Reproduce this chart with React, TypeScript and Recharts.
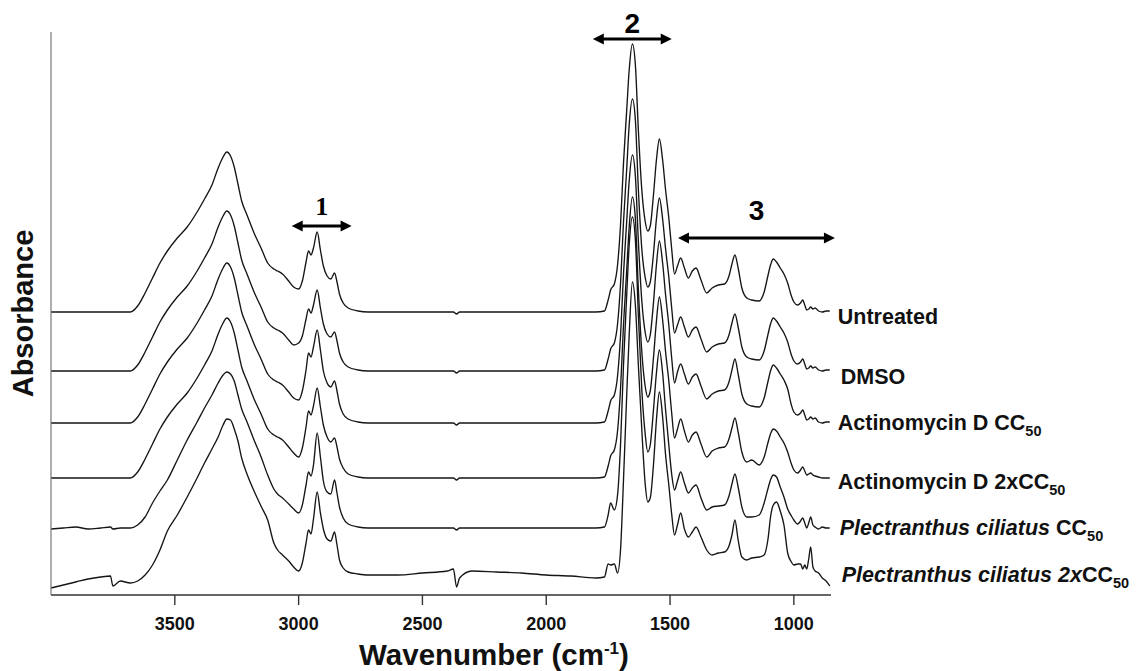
import React from 'react';
import { LineChart, Line, XAxis, YAxis, ReferenceLine, ReferenceDot } from 'recharts';

const FONT = '"Liberation Sans", Arial, Helvetica, sans-serif';
const SERIF = '"Liberation Serif", "Times New Roman", serif';

// Wavenumber grid (cm-1), shared by all spectra
const wavenumbers = [
  4000, 3950, 3900, 3850, 3800, 3760, 3750, 3720, 3680, 3650,
  3620, 3590, 3560, 3530, 3490, 3450, 3410, 3380, 3350, 3325,
  3305, 3290, 3275, 3260, 3245, 3230, 3210, 3180, 3150, 3125,
  3100, 3085, 3065, 3040, 3020, 3000, 2985, 2970, 2960, 2950,
  2940, 2925, 2912, 2900, 2885, 2870, 2855, 2845, 2835, 2820,
  2800, 2760, 2720, 2600, 2500, 2400, 2375, 2362, 2350, 2300,
  2200, 2100, 2000, 1900, 1800, 1765, 1750, 1740, 1725, 1712,
  1700, 1688, 1675, 1665, 1652, 1640, 1628, 1614, 1600, 1590,
  1580, 1567, 1555, 1543, 1530, 1518, 1505, 1493, 1482, 1470,
  1457, 1442, 1426, 1410, 1395, 1375, 1352, 1330, 1305, 1280,
  1262, 1250, 1238, 1225, 1210, 1190, 1170, 1140, 1120, 1105,
  1093, 1083, 1070, 1055, 1040, 1025, 1010, 1000, 985, 973,
  964, 956, 948, 940, 932, 923, 914, 900, 885, 870, 855,
];

// Stacked absorbance (arbitrary units, offset for display)
const untreated = [
  283, 283, 283, 283, 283, 283, 283, 283, 283, 289,
  302, 317, 332, 344, 357, 368, 383, 396, 410, 427,
  438, 443, 439, 428, 411, 394, 381, 362, 346, 332,
  326, 324, 321, 314, 308, 306, 314, 333, 344, 340,
  347, 363, 345, 329, 319, 316, 322, 313, 301, 292,
  287, 284, 283, 283, 283, 283, 283, 281, 283, 283,
  283, 283, 283, 283, 283, 284, 295, 305, 311, 330,
  370, 432, 485, 525, 551, 530, 465, 405, 373, 364,
  369, 400, 435, 456, 435, 405, 377, 345, 321, 329,
  337, 327, 317, 324, 327, 315, 302, 307, 310, 311,
  319, 331, 340, 327, 307, 297, 295, 294, 303, 319,
  331, 336, 333, 327, 321, 312, 299, 293, 290, 292,
  295, 290, 285, 286, 288, 286, 287, 284, 283, 284, 284,
];

const dmso = [
  224, 224, 224, 224, 224, 224, 224, 224, 224, 230,
  243, 258, 273, 285, 298, 309, 324, 337, 351, 368,
  379, 384, 380, 369, 352, 335, 322, 303, 287, 273,
  267, 265, 262, 255, 250, 252, 259, 276, 286, 282,
  290, 305, 287, 271, 261, 258, 263, 254, 242, 233,
  228, 225, 224, 224, 224, 224, 224, 222, 224, 224,
  224, 224, 224, 224, 224, 225, 236, 246, 252, 271,
  311, 373, 426, 470, 496, 475, 406, 346, 317, 308,
  313, 341, 376, 397, 376, 346, 318, 286, 262, 270,
  278, 268, 258, 265, 268, 256, 243, 248, 251, 252,
  260, 272, 281, 268, 248, 238, 236, 235, 244, 260,
  272, 277, 274, 268, 262, 253, 240, 234, 231, 233,
  236, 231, 226, 227, 229, 227, 228, 225, 224, 225, 225,
];

const actinomycinCC50 = [
  172, 172, 172, 172, 172, 172, 172, 172, 172, 178,
  191, 206, 221, 233, 246, 257, 272, 285, 299, 316,
  327, 332, 328, 317, 300, 283, 270, 251, 235, 221,
  215, 213, 210, 203, 197, 195, 204, 225, 242, 238,
  248, 265, 245, 224, 212, 208, 214, 204, 191, 181,
  176, 173, 172, 172, 172, 172, 172, 170, 172, 172,
  172, 172, 172, 172, 172, 173, 184, 194, 200, 219,
  259, 321, 374, 414, 440, 419, 354, 294, 262, 253,
  260, 292, 330, 354, 332, 300, 270, 236, 212, 223,
  231, 221, 211, 218, 221, 209, 196, 201, 204, 205,
  213, 225, 236, 221, 201, 191, 189, 188, 197, 213,
  225, 230, 227, 221, 215, 206, 190, 183, 180, 182,
  185, 180, 175, 176, 178, 176, 177, 173, 172, 173, 173,
];

const actinomycin2xCC50 = [
  117, 117, 117, 117, 117, 117, 117, 117, 117, 123,
  136, 151, 166, 178, 191, 202, 217, 230, 244, 261,
  272, 277, 273, 262, 245, 228, 215, 196, 180, 166,
  160, 158, 155, 148, 142, 138, 147, 168, 184, 180,
  189, 207, 188, 170, 158, 153, 157, 148, 136, 127,
  121, 118, 117, 117, 117, 117, 117, 115, 117, 117,
  117, 117, 117, 117, 117, 118, 129, 139, 145, 164,
  206, 270, 325, 368, 398, 376, 306, 243, 208, 198,
  204, 237, 274, 298, 275, 243, 214, 181, 157, 166,
  176, 164, 153, 160, 163, 151, 138, 144, 147, 148,
  156, 167, 177, 163, 143, 133, 135, 130, 138, 152,
  162, 166, 164, 158, 152, 143, 131, 125, 122, 125,
  128, 124, 120, 121, 122, 120, 119, 118, 117, 117, 117,
];

const plectranthusCC50 = [
  66, 67, 68, 66, 67, 68, 66, 67, 67, 70,
  78, 92, 104, 115, 135, 155, 173, 187, 200, 212,
  220, 223, 221, 214, 200, 186, 174, 155, 137, 120,
  106, 101, 97, 91, 86, 82, 90, 110, 123, 119,
  130, 162, 138, 114, 103, 101, 115, 102, 88, 77,
  71, 68, 67, 67, 67, 67, 67, 65, 67, 67,
  67, 67, 67, 67, 67, 68, 80, 92, 85, 100,
  150, 230, 300, 350, 378, 355, 280, 205, 160, 143,
  150, 185, 222, 245, 222, 185, 150, 120, 105, 114,
  123, 112, 102, 107, 110, 97, 85, 88, 89, 90,
  99, 111, 121, 108, 88, 78, 78, 80, 92, 106,
  116, 120, 118, 108, 98, 86, 79, 75, 71, 74,
  77, 72, 67, 72, 78, 70, 68, 66, 68, 67, 67,
];

const plectranthus2xCC50 = [
  7, 10, 13, 16, 18, 19, 9, 14, 12, 14,
  20, 30, 45, 64, 80, 98, 117, 132, 146, 158,
  170, 176, 175, 166, 154, 137, 122, 104, 88, 75,
  52, 45, 40, 34, 28, 24, 32, 52, 65, 61,
  76, 103, 82, 66, 56, 54, 63, 50, 35, 27,
  23, 21, 20, 20, 22, 24, 26, 8, 17, 24,
  23, 22, 20, 19, 17, 18, 31, 30, 31, 22,
  45, 115, 200, 260, 313, 290, 230, 165, 110, 93,
  97, 130, 175, 203, 178, 140, 110, 80, 60, 70,
  82, 66, 58, 63, 68, 58, 45, 40, 42, 43,
  49, 60, 75, 55, 38, 35, 37, 38, 40, 55,
  80, 90, 93, 84, 70, 42, 33, 30, 31, 31,
  26, 30, 26, 36, 48, 28, 24, 22, 17, 14, 9,
];

const xTicks = [3500, 3000, 2500, 2000, 1500, 1000];

const seriesKeys = ['untreated', 'dmso', 'actCC50', 'act2xCC50', 'plectCC50', 'plect2xCC50'];
const seriesValues = [untreated, dmso, actinomycinCC50, actinomycin2xCC50, plectranthusCC50, plectranthus2xCC50];

type Part = { text: string; italic?: boolean; sub?: boolean };
const seriesNames: Part[][] = [
  [{ text: 'Untreated' }],
  [{ text: 'DMSO' }],
  [{ text: 'Actinomycin D CC' }, { text: '50', sub: true }],
  [{ text: 'Actinomycin D 2xCC' }, { text: '50', sub: true }],
  [{ text: 'Plectranthus ciliatus', italic: true }, { text: ' CC' }, { text: '50', sub: true }],
  [{ text: 'Plectranthus ciliatus 2x', italic: true }, { text: 'CC' }, { text: '50', sub: true }],
];

// Region annotations (double arrows), in data units
const regionLabels = ['1', '2', '3'];
const regionFrom = [3028, 1812, 1468];
const regionTo = [2786, 1493, 834];
const regionLevel = [369, 556, 357];

// ---- styles (positions/sizes kept apart from the data) ----
const labelOffsets = [
  { dx: 8, dy: 12.7 },
  { dx: 11, dy: 13.7 },
  { dx: 8, dy: 8.4 },
  { dx: 8, dy: 10.7 },
  { dx: 10, dy: 7.4 },
  { dx: 12, dy: -4 },
];
const regionStyles = [
  { family: SERIF, size: 26, gap: 11.5 },
  { family: FONT, size: 28, gap: 6 },
  { family: FONT, size: 28, gap: 18 },
];

const chartData = wavenumbers.map((wn, i) => {
  const row: Record<string, number> = { wn };
  seriesKeys.forEach((k, s) => {
    row[k] = seriesValues[s][i];
  });
  return row;
});

const lastIndex = wavenumbers.length - 1;

const renderSeriesLabel = (s: number) => (p: any) => {
  const cx = Number(p.cx);
  const cy = Number(p.cy);
  const off = labelOffsets[s];
  return (
    <text
      x={cx + off.dx}
      y={cy + off.dy}
      fontFamily={FONT}
      fontWeight="bold"
      fontSize={21.5}
      fill="#111"
    >
      {seriesNames[s].map((part, j) => (
        <tspan
          key={j}
          fontStyle={part.italic ? 'italic' : 'normal'}
          fontSize={part.sub ? 14.5 : undefined}
          dy={part.sub ? 6 : undefined}
        >
          {part.text}
        </tspan>
      ))}
    </text>
  );
};

const renderArrow = (r: number) => (p: any) => {
  const x1 = Number(p.x1);
  const x2 = Number(p.x2);
  const y = Number(p.y1);
  const l = Math.min(x1, x2);
  const rr = Math.max(x1, x2);
  const hl = 11;
  const hw = 5.5;
  const st = regionStyles[r];
  return (
    <g>
      <line x1={l + hl - 2} x2={rr - hl + 2} y1={y} y2={y} stroke="#000" strokeWidth={3.2} />
      <polygon points={`${l},${y} ${l + hl},${y - hw} ${l + hl},${y + hw}`} fill="#000" />
      <polygon points={`${rr},${y} ${rr - hl},${y - hw} ${rr - hl},${y + hw}`} fill="#000" />
      <text
        x={(l + rr) / 2}
        y={y - st.gap}
        textAnchor="middle"
        fontFamily={st.family}
        fontWeight="bold"
        fontSize={st.size}
        fill="#000"
      >
        {regionLabels[r]}
      </text>
    </g>
  );
};

// x tick mark + label, anchored at the axis line (value 0 of the y scale)
const renderXTick = (t: number) => (p: any) => {
  const x = Number(p.cx);
  const y = Number(p.cy);
  return (
    <g>
      <line x1={x} x2={x} y1={y} y2={y + 10} stroke="#333" strokeWidth={1.4} />
      <text
        x={x}
        y={y + 34.5}
        textAnchor="middle"
        fontFamily={FONT}
        fontWeight="bold"
        fontSize={18}
        fill="#111"
      >
        {t}
      </text>
    </g>
  );
};

const renderXTitle = (p: any) => {
  const vb = p.viewBox || {};
  const cx = (vb.x ?? 51) + (vb.width ?? 780) / 2 + 53;
  const y = (vb.y ?? 595) + 69.5;
  return (
    <text x={cx} y={y} textAnchor="middle" fontFamily={FONT} fontWeight="bold" fontSize={29.5} fill="#111">
      Wavenumber (cm
      <tspan dy={-11} fontSize={17}>
        -1
      </tspan>
      <tspan dy={11}>)</tspan>
    </text>
  );
};

const renderYTitle = (p: any) => {
  const vb = p.viewBox || {};
  const x = (vb.x ?? 11) + (vb.width ?? 40) - 18;
  const y = (vb.y ?? 32) + (vb.height ?? 563) / 2;
  return (
    <text
      x={x}
      y={y}
      transform={`rotate(-90, ${x}, ${y})`}
      textAnchor="middle"
      fontFamily={FONT}
      fontWeight="bold"
      fontSize={29}
      fill="#111"
    >
      Absorbance
    </text>
  );
};

export default function App() {
  return (
    <div style={{ position: 'absolute', left: 0, top: 0, width: 1136, height: 671, background: '#fff' }}>
      <LineChart
        width={1136}
        height={671}
        data={chartData}
        margin={{ top: 32, right: 305, bottom: 0, left: 11 }}
      >
        <XAxis
          dataKey="wn"
          type="number"
          domain={[850, 4000]}
          reversed
          ticks={xTicks}
          height={76}
          tick={false}
          tickLine={false}
          axisLine={{ stroke: '#333', strokeWidth: 1.6 }}
          label={{ content: renderXTitle }}
        />
        <YAxis
          type="number"
          domain={[0, 563]}
          width={40}
          tick={false}
          tickLine={false}
          axisLine={{ stroke: '#777', strokeWidth: 1.2 }}
          label={{ content: renderYTitle }}
        />
        {seriesKeys.map((k) => (
          <Line
            key={k}
            dataKey={k}
            type="monotone"
            stroke="#151515"
            strokeWidth={1.35}
            dot={false}
            activeDot={false}
            isAnimationActive={false}
          />
        ))}
        {xTicks.map((t) => (
          <ReferenceDot
            key={`tick-${t}`}
            x={t}
            y={0}
            r={0}
            ifOverflow="visible"
            shape={renderXTick(t)}
          />
        ))}
        {seriesKeys.map((k, s) => (
          <ReferenceDot
            key={`lbl-${k}`}
            x={wavenumbers[lastIndex]}
            y={seriesValues[s][lastIndex]}
            r={0}
            ifOverflow="visible"
            shape={renderSeriesLabel(s)}
          />
        ))}
        {regionLabels.map((lab, r) => (
          <ReferenceLine
            key={`arrow-${lab}`}
            segment={[
              { x: regionFrom[r], y: regionLevel[r] },
              { x: regionTo[r], y: regionLevel[r] },
            ]}
            ifOverflow="visible"
            shape={renderArrow(r)}
          />
        ))}
      </LineChart>
    </div>
  );
}
